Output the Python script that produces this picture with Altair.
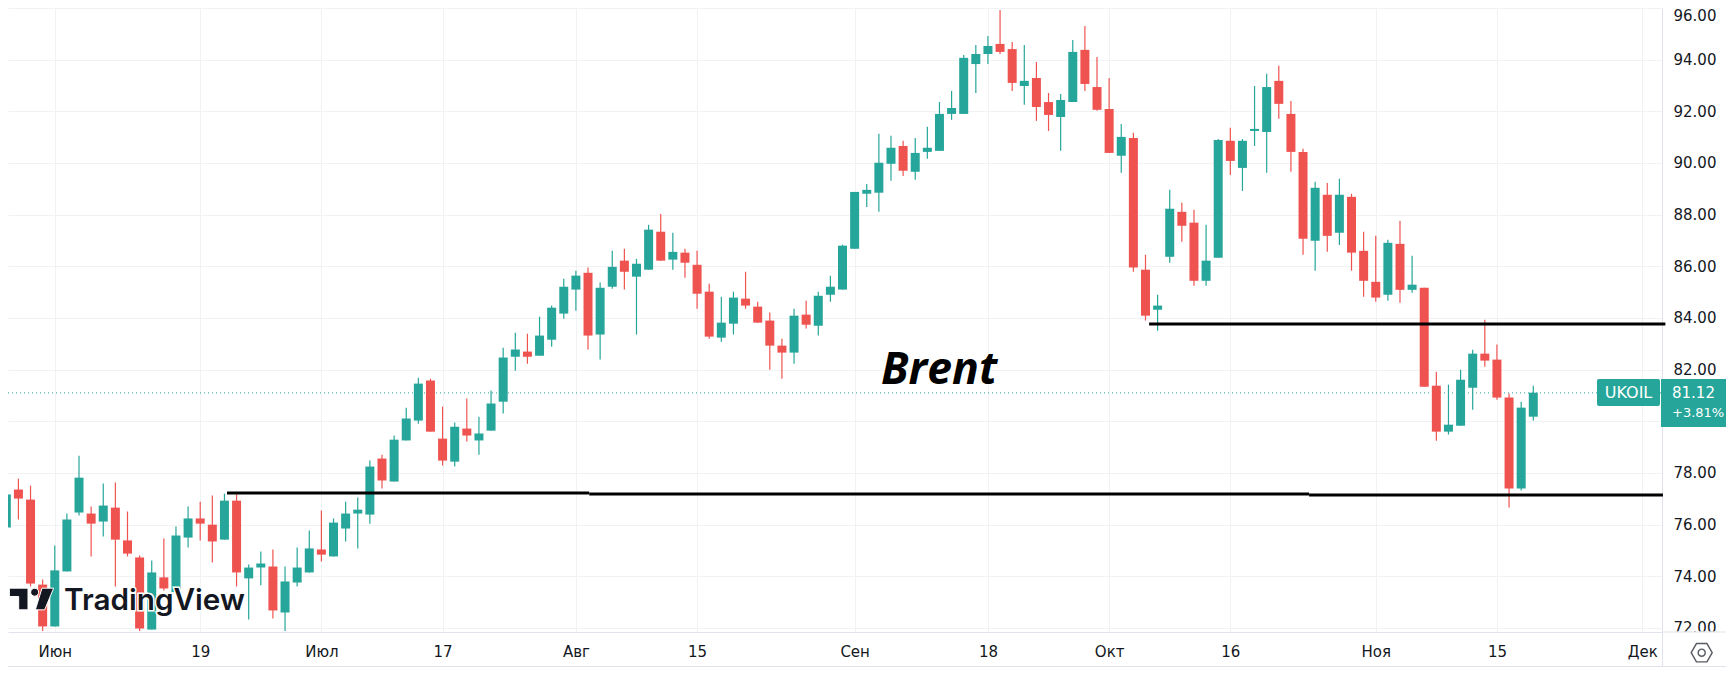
import altair as alt
import pandas as pd

opens = [75.89,77.36,76.97,73.68,72.06,74.19,76.47,76.43,76.12,76.66,
75.39,74.73,71.94,73.96,73.39,75.50,76.24,76.00,75.42,76.93,
73.92,74.34,74.38,72.60,73.76,74.15,75.04,74.77,75.85,76.43,
76.39,78.56,77.67,79.26,80.03,81.58,79.33,78.44,79.72,79.26,
79.64,80.76,82.50,82.70,82.54,83.16,84.17,85.10,85.75,83.36,
85.21,86.22,85.60,85.87,87.34,86.26,86.53,86.06,85.02,83.24,
83.78,84.75,84.44,83.90,82.93,82.66,84.13,83.70,84.90,85.10,
86.68,88.81,88.85,89.97,90.66,89.66,90.43,90.47,91.90,91.90,
93.83,94.22,94.61,94.41,92.98,93.29,92.36,91.78,92.36,94.38,
92.94,92.09,90.28,90.97,85.87,84.32,86.37,88.11,87.69,85.44,
86.33,90.86,89.81,91.24,91.20,93.18,91.90,90.43,86.99,88.77,
87.30,88.69,86.60,85.40,84.90,86.87,85.09,85.17,81.38,79.60,
79.83,81.30,82.62,82.39,80.92,77.40,80.18]
closes = [77.17,77.01,73.72,72.06,74.23,76.20,77.82,76.04,76.74,75.42,
74.88,71.98,74.15,73.53,75.58,76.24,76.04,75.35,76.93,74.15,
74.34,74.50,72.68,73.80,74.34,75.08,74.84,76.08,76.43,76.58,
78.25,77.71,79.29,80.11,81.46,79.60,78.48,79.79,79.45,79.53,
80.69,82.47,82.78,82.50,83.32,84.40,85.21,85.64,83.32,85.17,
85.98,85.79,86.10,87.42,86.22,86.56,86.14,84.94,83.28,83.82,
84.79,84.48,83.82,82.93,82.66,84.09,83.74,84.86,85.21,86.80,
88.88,88.96,90.01,90.59,89.70,90.39,90.59,91.90,92.13,94.07,
94.22,94.53,94.30,93.10,93.18,92.17,91.86,92.44,94.30,93.06,
92.06,90.39,91.01,85.95,84.09,84.48,88.23,87.57,85.44,86.22,
90.89,90.08,90.86,91.32,92.94,92.29,90.43,87.07,89.04,87.18,
88.77,86.53,85.44,84.79,86.91,85.09,85.29,81.34,79.60,79.87,
81.61,82.62,82.35,80.92,77.40,80.53,81.11]
highs = [77.28,77.78,77.51,73.88,75.19,76.43,78.67,76.70,77.59,77.63,
76.51,74.81,74.61,75.46,75.93,76.70,76.89,77.13,77.20,77.17,
74.46,74.96,75.04,74.38,75.12,75.77,76.55,76.24,76.89,77.05,
78.48,78.71,79.45,80.53,81.69,81.65,80.57,79.95,80.88,80.18,
81.19,82.85,83.43,83.39,84.05,84.48,85.52,85.83,85.95,85.37,
86.60,86.68,86.29,87.61,88.03,87.30,86.68,86.60,85.33,84.82,
85.02,85.79,84.63,84.21,83.20,84.36,84.67,85.02,85.64,86.84,
88.88,89.19,91.13,91.05,90.86,90.97,91.40,92.36,92.79,94.18,
94.57,94.92,95.92,94.68,94.57,93.91,92.71,92.67,94.76,95.30,
94.10,93.29,91.51,91.17,86.45,84.90,88.96,88.46,88.19,87.61,
90.93,91.36,90.93,92.98,93.45,93.76,92.40,90.55,89.27,89.23,
89.39,88.81,87.34,87.18,87.03,87.76,86.41,85.17,81.92,81.42,
82.00,82.77,83.93,82.97,81.08,80.76,81.38]
lows = [75.70,76.20,73.61,71.88,72.06,74.19,76.35,74.77,75.54,73.61,
74.77,71.88,71.94,73.45,73.32,75.12,75.39,74.54,75.42,73.61,
72.33,73.65,72.37,71.88,73.61,74.15,74.57,74.77,75.35,75.08,
76.04,77.40,77.67,79.26,79.91,79.60,78.29,78.25,79.22,78.71,
79.64,80.30,81.96,82.23,82.54,82.89,83.97,84.28,82.78,82.39,
85.13,85.10,83.36,85.87,86.22,85.87,85.56,84.36,83.20,83.08,
83.36,84.36,83.82,82.00,81.65,82.23,83.59,83.32,84.63,85.10,
86.68,88.30,88.11,89.31,89.50,89.35,90.16,90.47,91.67,91.90,
92.71,93.83,94.22,92.79,92.25,91.63,91.24,90.47,92.36,92.79,
92.02,90.39,89.62,85.79,83.90,83.51,86.14,86.95,85.25,85.25,
86.33,89.54,88.92,90.66,89.62,91.71,89.66,86.45,85.83,86.56,
86.83,85.83,84.82,84.63,84.67,84.59,84.98,81.34,79.25,79.49,
79.83,80.45,82.11,80.84,76.66,77.32,80.03]

tick_positions = [4, 16, 26, 36, 47, 57, 70, 81, 91, 101, 113, 123, 135]
tick_labels = ["Июн", "19", "Июл", "17", "Авг", "15", "Сен", "18", "Окт", "16", "Ноя", "15", "Дек"]
price_ticks = [72, 74, 76, 78, 80, 82, 84, 86, 88, 90, 92, 94, 96]

level_start = [18.21, 48.1, 107.5, 94.3]
level_end = [48.1, 107.5, 136.7, 136.9]
level_price = [77.23, 77.19, 77.15, 83.77]

last_price = 81.10

UP = "#26a69a"
DOWN = "#ef5350"
INK = "#131722"
GRID = "#f1f2f4"
EDGE = "#e0e3eb"
FONT = "DejaVu Sans"

candles = pd.DataFrame({
    "i": list(range(len(opens))), "open": opens, "high": highs, "low": lows, "close": closes,
})
candles["dir"] = ["up" if c >= o else "down" for o, c in zip(opens, closes)]

x_scale = alt.Scale(domain=[0.14, 136.62], nice=False, zero=False, padding=0)
y_scale = alt.Scale(domain=[71.845, 96], nice=False, zero=False, padding=0)
color = alt.Color("dir:N", scale=alt.Scale(domain=["up", "down"], range=[UP, DOWN]), legend=None)

label_map = ",".join(f"'{p}':'{t}'" for p, t in zip(tick_positions, tick_labels))
x_axis = alt.Axis(
    values=tick_positions, labelExpr="{" + label_map + "}[datum.value]", title=None,
    grid=True, gridColor=GRID, gridWidth=1, ticks=False, domain=True, domainColor=EDGE, domainWidth=1,
    labelFont=FONT, labelFontSize=15, labelColor=INK, labelPadding=12, labelOverlap=False,
    labelBound=False, labelFlush=False, zindex=0,
)
y_axis = alt.Axis(
    values=price_ticks, format=".2f", title=None, orient="right",
    grid=True, gridColor=GRID, gridWidth=1, ticks=False, domain=True, domainColor=EDGE, domainWidth=1,
    labelFont=FONT, labelFontSize=15, labelColor=INK, labelPadding=11, labelOverlap=False,
    labelBound=False, labelFlush=True, zindex=0,
)

base_row = pd.DataFrame({"k": [0]})

price_line = alt.Chart(pd.DataFrame({"a": [0.14], "b": [136.62], "p": [last_price]})).mark_rule(
    color=UP, strokeWidth=1, strokeDash=[1, 3]
).encode(
    x=alt.X("a:Q", scale=x_scale, axis=x_axis),
    x2="b:Q",
    y=alt.Y("p:Q", scale=y_scale, axis=y_axis),
)

wicks = alt.Chart(candles).mark_rule(strokeWidth=1.2, clip=True).encode(
    x=alt.X("i:Q", scale=x_scale, axis=x_axis),
    y=alt.Y("low:Q", scale=y_scale, axis=y_axis),
    y2="high:Q",
    color=color,
)
bodies = alt.Chart(candles).mark_bar(size=9, clip=True).encode(
    x=alt.X("i:Q", scale=x_scale, axis=x_axis),
    y=alt.Y("open:Q", scale=y_scale, axis=y_axis),
    y2="close:Q",
    color=color,
)

levels = alt.Chart(pd.DataFrame({"a": level_start, "b": level_end, "p": level_price})).mark_rule(
    color="#000000", strokeWidth=3
).encode(
    x=alt.X("a:Q", scale=x_scale, axis=x_axis),
    x2="b:Q",
    y=alt.Y("p:Q", scale=y_scale, axis=y_axis),
)

def box(x0, x1, y0, y1, fill, radius=0):
    return alt.Chart(base_row).mark_rect(color=fill, cornerRadius=radius).encode(
        x=alt.value(x0), x2=alt.value(x1), y=alt.value(y0), y2=alt.value(y1))

def label(txt, x, y, **kw):
    return alt.Chart(pd.DataFrame({"t": [txt]})).mark_text(**kw).encode(
        x=alt.value(x), y=alt.value(y), text="t:N")

label_band = box(1655, 1718, 623.5, 640, "#ffffff")
axis_line_right = box(1655, 1718, 623.5, 624.5, EDGE)
bottom_line = box(0, 1718, 658, 659, EDGE)
axis_ext = box(1654, 1655, 624, 659, EDGE)

name_tag = box(1589, 1652, 371, 398, UP, 2)
price_tag = box(1653, 1718, 371, 419, UP)
name_text = label("UKOIL", 1620.5, 385, font=FONT, fontSize=16, color="#ffffff", align="center", baseline="middle", fontWeight=500)
price_text = label("81.12", 1664, 385, font=FONT, fontSize=15, color="#ffffff", align="left", baseline="middle")
pct_text = label("+3.81%", 1664, 405, font=FONT, fontSize=13, color="#ffffff", align="left", baseline="middle")

brent = label("Brent", 873, 376, font="Open Sans", fontSize=44.5, fontWeight="bold", fontStyle="italic",
              color="#000000", align="left", baseline="alphabetic")

LOGO_SYMBOL = ("M-1 -0.489 L-0.158 -0.489 L-0.158 0.489 L-0.579 0.489 L-0.579 -0.113 L-1 -0.113 Z "
               "M0.474 -0.489 L1 -0.489 L0.594 0.489 L0.173 0.489 Z "
               "M-0.037 -0.308 A0.18 0.18 0 1 0 0.323 -0.308 A0.18 0.18 0 1 0 -0.037 -0.308 Z")
logo_mark = alt.Chart(base_row).mark_point(
    shape=LOGO_SYMBOL, size=1962, filled=True, fill=INK, fillOpacity=1, stroke="#ffffff", strokeWidth=1, strokeOpacity=1
).encode(x=alt.value(23.5), y=alt.value(591))
logo_halo = label("TradingView", 56, 601.5, font="Inter", fontSize=29.7, fontWeight=600, color="#ffffff",
                  stroke="#ffffff", strokeWidth=3, align="left", baseline="alphabetic")
logo_text = label("TradingView", 56, 601.5, font="Inter", fontSize=29.7, fontWeight=600, color=INK,
                  align="left", baseline="alphabetic")

HEX = "M-1 0 L-0.5 -0.87 L0.5 -0.87 L1 0 L0.5 0.87 L-0.5 0.87 Z"
hex_icon = alt.Chart(base_row).mark_point(shape=HEX, size=441, filled=False, stroke=INK, strokeWidth=1.4, strokeOpacity=1).encode(
    x=alt.value(1693.7), y=alt.value(644.7))
hex_dot = alt.Chart(base_row).mark_point(shape="circle", size=50, filled=False, stroke=INK, strokeWidth=1.4, strokeOpacity=1).encode(
    x=alt.value(1693.7), y=alt.value(644.7))

chart = alt.layer(
    price_line, wicks, bodies, levels,
    label_band, axis_line_right, bottom_line, axis_ext,
    name_tag, price_tag, name_text, price_text, pct_text,
    brent, logo_halo, logo_text, logo_mark, hex_icon, hex_dot,
).properties(
    width=1654, height=624,
    autosize=alt.AutoSizeParams(type="none"),
    padding={"left": 0, "top": 0, "right": 64, "bottom": 35},
    background="#ffffff",
).configure_view(stroke=None)

chart.save("out.html", embed_options={"renderer": "svg", "actions": False})
